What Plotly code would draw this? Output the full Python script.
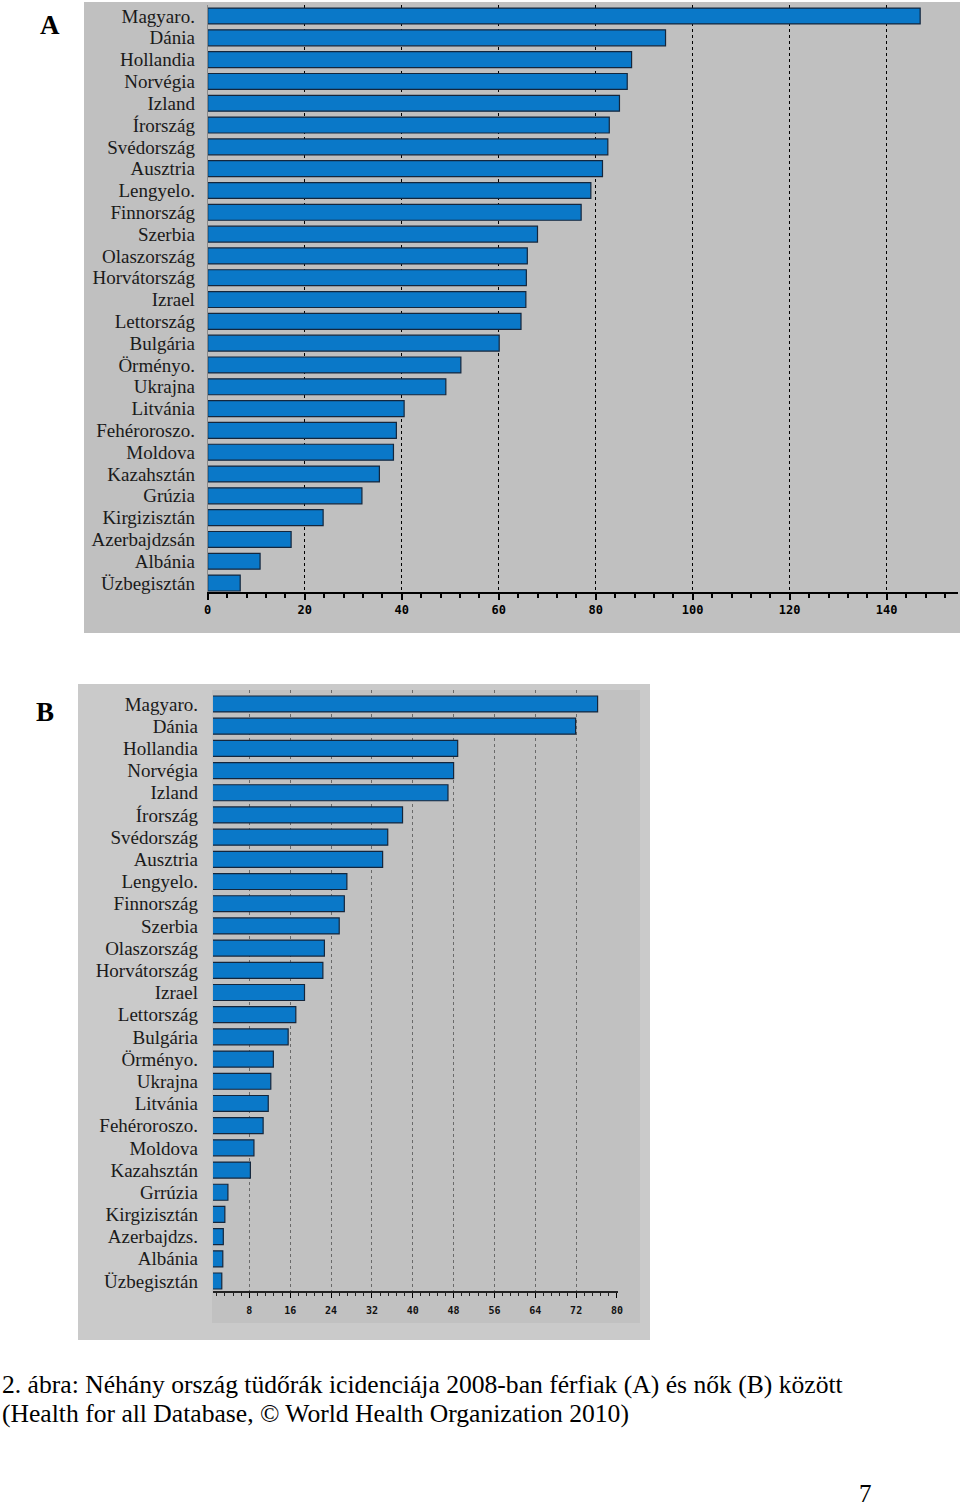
import plotly.graph_objects as go

countries_a = ["Magyaro.", "Dánia", "Hollandia", "Norvégia", "Izland", "Írország", "Svédország",
               "Ausztria", "Lengyelo.", "Finnország", "Szerbia", "Olaszország", "Horvátország",
               "Izrael", "Lettország", "Bulgária", "Örményo.", "Ukrajna", "Litvánia",
               "Fehéroroszo.", "Moldova", "Kazahsztán", "Grúzia", "Kirgizisztán",
               "Azerbajdzsán", "Albánia", "Üzbegisztán"]
values_a = [146.9, 94.4, 87.4, 86.5, 84.9, 82.8, 82.5, 81.4, 79.0, 77.0, 68.0, 65.9, 65.7,
            65.6, 64.6, 60.1, 52.2, 49.1, 40.5, 38.9, 38.3, 35.4, 31.8, 23.8, 17.2, 10.8, 6.7]

countries_b = ["Magyaro.", "Dánia", "Hollandia", "Norvégia", "Izland", "Írország", "Svédország",
               "Ausztria", "Lengyelo.", "Finnország", "Szerbia", "Olaszország", "Horvátország",
               "Izrael", "Lettország", "Bulgária", "Örményo.", "Ukrajna", "Litvánia",
               "Fehéroroszo.", "Moldova", "Kazahsztán", "Grrúzia", "Kirgizisztán",
               "Azerbajdzs.", "Albánia", "Üzbegisztán"]
values_b = [76.2, 71.9, 48.8, 48.0, 46.9, 38.0, 35.1, 34.1, 27.1, 26.6, 25.6, 22.7, 22.4,
            18.8, 17.1, 15.6, 12.7, 12.2, 11.7, 10.7, 8.9, 8.2, 3.8, 3.2, 2.9, 2.8, 2.6]

ticks_a = [0, 20, 40, 60, 80, 100, 120, 140]
ticks_b = [8, 16, 24, 32, 40, 48, 56, 64, 72, 80]

caption_1 = "2. ábra: Néhány ország tüdőrák icidenciája 2008-ban férfiak (A) és nők (B) között"
caption_2 = "(Health for all Database, © World Health Organization 2010)"

W, H = 960, 1506
BAR = "#0A78C8"
EDGE = "#14263C"
SERIF = "Liberation Serif, Times New Roman, serif"


def px(x):
    return x / W


def py(y):
    return 1 - y / H


fig = go.Figure()
fig.add_trace(go.Bar(x=values_a, y=countries_a, orientation="h", width=0.73,
                     marker=dict(color=BAR, line=dict(color=EDGE, width=1.2)),
                     xaxis="x", yaxis="y", showlegend=False, hoverinfo="x+y"))
fig.add_trace(go.Bar(x=values_b, y=countries_b, orientation="h", width=0.72,
                     marker=dict(color=BAR, line=dict(color=EDGE, width=1.2)),
                     xaxis="x2", yaxis="y2", showlegend=False, hoverinfo="x+y"))

shapes = [
    dict(type="rect", xref="paper", yref="paper", x0=px(84), x1=px(960), y0=py(633), y1=py(2),
         fillcolor="#c0c0c0", line=dict(width=0), layer="below"),
    dict(type="rect", xref="paper", yref="paper", x0=px(78), x1=px(650), y0=py(1340), y1=py(684),
         fillcolor="#cacaca", line=dict(width=0), layer="below"),
    dict(type="rect", xref="paper", yref="paper", x0=px(212), x1=px(640), y0=py(1323), y1=py(690),
         fillcolor="#c1c1c1", line=dict(width=0), layer="below"),
]

annotations = [
    dict(text="<b>A</b>", x=px(50), y=py(25), xref="paper", yref="paper", showarrow=False,
         font=dict(family=SERIF, size=27, color="#000"), xanchor="center", yanchor="middle"),
    dict(text="<b>B</b>", x=px(45), y=py(712), xref="paper", yref="paper", showarrow=False,
         font=dict(family=SERIF, size=27, color="#000"), xanchor="center", yanchor="middle"),
    dict(text=caption_1, x=px(0), y=py(1384.5), xref="paper", yref="paper", showarrow=False,
         font=dict(family=SERIF, size=25.6, color="#000"), xanchor="left", yanchor="middle"),
    dict(text=caption_2, x=px(0), y=py(1413.5), xref="paper", yref="paper", showarrow=False,
         font=dict(family=SERIF, size=25.6, color="#000"), xanchor="left", yanchor="middle"),
    dict(text="7", x=px(865), y=py(1493), xref="paper", yref="paper", showarrow=False,
         font=dict(family=SERIF, size=25, color="#000"), xanchor="center", yanchor="middle"),
]

fig.update_layout(
    width=W, height=H, autosize=False,
    margin=dict(l=0, r=0, t=0, b=0, pad=0, autoexpand=False),
    paper_bgcolor="white",
    plot_bgcolor="rgba(0,0,0,0)",
    bargap=0.27,
    shapes=shapes,
    annotations=annotations,
    xaxis=dict(
        domain=[px(207.7), px(958)], anchor="y", range=[0, 154.7], automargin=False,
        tickvals=ticks_a, ticktext=[str(t) for t in ticks_a],
        ticks="outside", ticklen=6, tickwidth=1.5, tickcolor="#000",
        showline=True, linecolor="#000", linewidth=1.5,
        showgrid=True, gridcolor="#000", griddash="dot", gridwidth=1,
        zeroline=False,
        tickfont=dict(family="DejaVu Sans Mono, monospace", size=12, color="#000", weight="bold"),
        minor=dict(dtick=4, tick0=0, ticks="outside", ticklen=4, tickcolor="#000", showgrid=False),
    ),
    yaxis=dict(
        domain=[py(592), py(5)], anchor="x", type="category", automargin=False,
        categoryorder="array", categoryarray=countries_a,
        tickmode="array", tickvals=countries_a, ticktext=countries_a,
        range=[26.41, -0.505],
        showline=True, linecolor="#8a8a8a", linewidth=1,
        showgrid=False, ticks="", ticklabelstandoff=8,
        tickfont=dict(family=SERIF, size=19, color="#1a1a1a"),
    ),
    xaxis2=dict(
        domain=[px(213), px(617.5)], anchor="y2", range=[0.88, 80.1], automargin=False,
        tickvals=ticks_b, ticktext=[str(t) for t in ticks_b],
        ticks="outside", ticklen=5, tickwidth=1.2, tickcolor="#000",
        showline=True, linecolor="#222", linewidth=1.5,
        showgrid=True, gridcolor="#6a6a6a", griddash="dot", gridwidth=1,
        zeroline=False, ticklabelstandoff=4,
        tickfont=dict(family="DejaVu Sans Mono, monospace", size=10, color="#111", weight="bold"),
        minor=dict(dtick=1.6, tick0=0, ticks="outside", ticklen=3.5, tickcolor="#222", showgrid=False),
    ),
    yaxis2=dict(
        domain=[py(1291), py(690)], anchor="x2", type="category", automargin=False,
        categoryorder="array", categoryarray=countries_b,
        tickmode="array", tickvals=countries_b, ticktext=countries_b,
        range=[26.45, -0.63],
        showline=False, showgrid=False, ticks="", ticklabelstandoff=14,
        tickfont=dict(family=SERIF, size=19, color="#1a1a1a"),
    ),
)

page_fix = (
    "document.documentElement.style.margin='0';"
    "document.documentElement.style.overflow='hidden';"
    "document.body.style.margin='0';"
    "document.body.style.overflow='hidden';"
    "var d=document.getElementById('{plot_id}');"
    "d.style.position='absolute';d.style.left='0px';d.style.top='0px';"
)

fig.write_html(
    "out.html",
    config={"responsive": False, "displayModeBar": False},
    post_script=page_fix,
)
